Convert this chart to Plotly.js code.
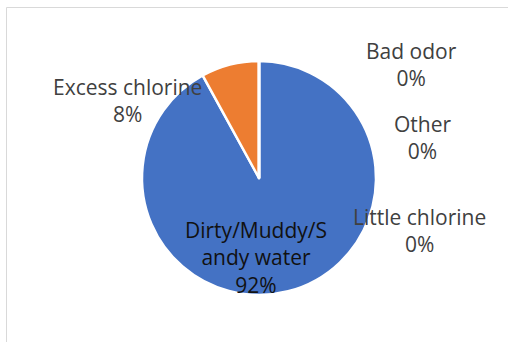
<!DOCTYPE html>
<html>
<head>
<meta charset="utf-8">
<script src="https://cdn.plot.ly/plotly-3.0.1.min.js"></script>
<style>html,body{margin:0;padding:0;background:#fff;}#chart{width:508px;height:342px;}</style>
</head>
<body>
<div id="chart"></div>
<script>
// Data
const categories = ["Dirty/Muddy/Sandy water", "Excess chlorine", "Bad odor", "Other", "Little chlorine"];
const values = [92, 8, 0, 0, 0];
const colors = ["#4472C4", "#ED7D31", "#A5A5A5", "#FFC000", "#5B9BD5"];
// label display text (line-wrapped as in the reference)
const labelText = ["Dirty/Muddy/S<br>andy water", "Excess chlorine", "Bad odor", "Other", "Little chlorine"];
const labelColors = ["#111111", "#404040", "#404040", "#404040", "#404040"];
// label centre positions in pixels (layout only)
const labelPos = [[256, 257], [127, 101], [411, 64], [422, 137], [419, 230]];

const W = 508, H = 342;
const total = values.reduce((a, b) => a + b, 0);
const annotations = categories.map((c, i) => ({
  xref: 'paper', yref: 'paper',
  x: labelPos[i][0] / W, y: 1 - labelPos[i][1] / H,
  xanchor: 'center', yanchor: 'middle',
  text: labelText[i] + '<br>' + Math.round(values[i] / total * 100) + '%',
  showarrow: false,
  font: {family: 'Open Sans, sans-serif', size: 21, color: labelColors[i]}
}));

const cx = 259, cy = 178, r = 117;
const trace = {
  type: 'pie',
  labels: categories,
  values: values,
  sort: false,
  direction: 'clockwise',
  rotation: 0,
  textinfo: 'none',
  hoverinfo: 'none',
  marker: {colors: colors, line: {color: '#ffffff', width: 2.5}},
  domain: {x: [(cx - r) / W, (cx + r) / W], y: [1 - (cy + r) / H, 1 - (cy - r) / H]},
  showlegend: false
};

const layout = {
  width: W, height: H,
  margin: {l: 0, r: 0, t: 0, b: 0},
  paper_bgcolor: '#ffffff',
  showlegend: false,
  annotations: annotations,
  shapes: [{
    type: 'rect', xref: 'paper', yref: 'paper',
    x0: 6.5 / W, x1: 1.2, y0: -0.2, y1: 1 - 7.5 / H,
    line: {color: '#d9d9d9', width: 1}, fillcolor: 'rgba(0,0,0,0)', layer: 'below'
  }]
};

Plotly.newPlot('chart', [trace], layout, {staticPlot: true, displayModeBar: false});
</script>
</body>
</html>
